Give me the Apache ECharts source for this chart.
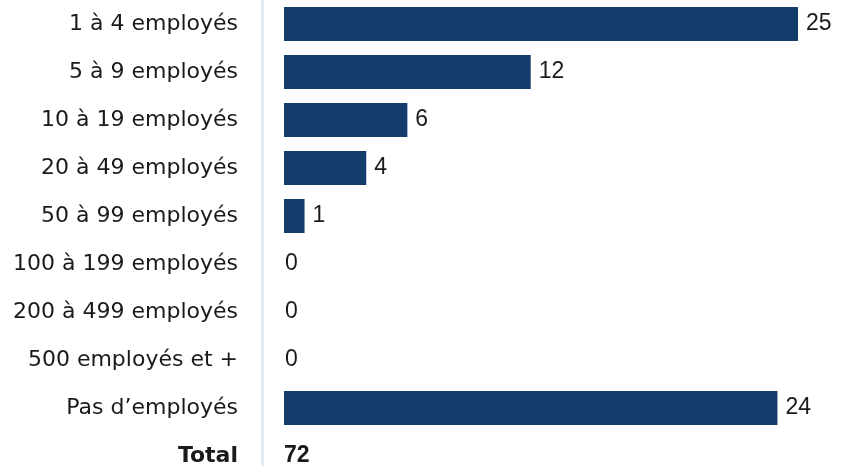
<!DOCTYPE html>
<html>
<head>
<meta charset="utf-8">
<style>
  html, body { margin: 0; padding: 0; background: #fff; }
  #chart { width: 844px; height: 466px; }
</style>
<script src="https://cdn.jsdelivr.net/npm/echarts@6/dist/echarts.min.js"></script>
</head>
<body>
<div id="chart"></div>
<script>
// Taille des entreprises (nombre d'employés)
const categories = [
  '1 à 4 employés',
  '5 à 9 employés',
  '10 à 19 employés',
  '20 à 49 employés',
  '50 à 99 employés',
  '100 à 199 employés',
  '200 à 499 employés',
  '500 employés et +',
  'Pas d\u2019employés'
];
const counts = [25, 12, 6, 4, 1, 0, 0, 0, 24];
const totalLabel = 'Total';
const totalValue = 72;

const BAR = '#143d6b';
const TEXT = '#1a1a1a';
const LABEL_FONT = '"DejaVu Sans", sans-serif';
const VALUE_FONT = '"Liberation Sans", Arial, sans-serif';

const chart = echarts.init(document.getElementById('chart'), null, { renderer: 'canvas' });

const rows = categories.concat([totalLabel]);

// Bars start a small gap to the right of the category axis line:
// the value axis begins slightly below zero to leave that gap.
const AXIS_MAX = 25;
const AXIS_MIN = -1.07;

chart.setOption({
  animation: false,
  grid: {
    left: 262, top: 0, width: 536, height: 480,
    containLabel: false,
    outerBoundsMode: 'none'
  },
  xAxis: {
    type: 'value',
    min: AXIS_MIN,
    max: AXIS_MAX,
    show: false
  },
  yAxis: {
    type: 'category',
    data: rows,
    inverse: true,
    axisLine: { show: true, onZero: false, lineStyle: { color: '#e1ecf8', width: 3 } },
    axisTick: { show: false },
    splitLine: { show: false },
    axisLabel: {
      margin: 24,
      color: TEXT,
      fontFamily: LABEL_FONT,
      fontSize: 22,
      formatter: v => v === totalLabel ? '{t|' + v + '}' : v,
      rich: {
        t: { fontFamily: LABEL_FONT, fontSize: 22, fontWeight: 'bold', color: TEXT }
      }
    }
  },
  series: [
    {
      type: 'bar',
      barWidth: 34,
      itemStyle: { color: BAR },
      data: counts.map(v => ({
        value: v,
        label: { distance: v === 0 ? 1 : 8 }
      })).concat(['-']),
      label: {
        show: true,
        position: 'right',
        color: TEXT,
        fontFamily: VALUE_FONT,
        fontSize: 23
      }
    },
    {
      type: 'scatter',
      symbolSize: 0,
      itemStyle: { opacity: 1 },
      data: [[0, totalLabel]],
      label: {
        show: true,
        position: 'right',
        distance: 0,
        opacity: 1,
        formatter: () => String(totalValue),
        color: TEXT,
        fontFamily: VALUE_FONT,
        fontSize: 23,
        fontWeight: 'bold'
      }
    }
  ]
});
</script>
</body>
</html>
